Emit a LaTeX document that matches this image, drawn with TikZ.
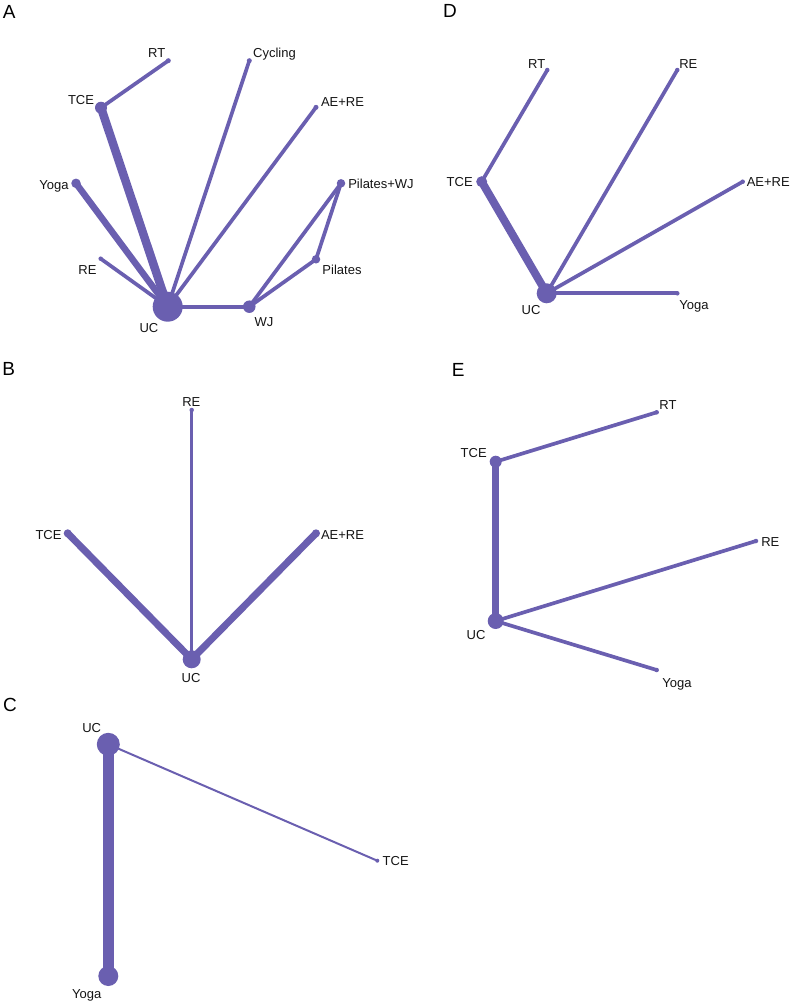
\documentclass[tikz,border=0pt]{standalone}
\usepackage{fontspec}
\setmainfont{Liberation Sans}
\usetikzlibrary{backgrounds}
\definecolor{pcol}{RGB}{106,95,176}
\definecolor{tcol}{RGB}{20,20,20}
\begin{document}
\begin{tikzpicture}[x=1pt,y=-1pt,
  nd/.style={circle,fill=pcol,draw=none,inner sep=0pt,minimum size=#1},
  lbl/.style={anchor=base,yshift=-4.65pt,inner sep=0pt,text=tcol,font=\fontsize{13}{15}\selectfont},
  plbl/.style={anchor=base,yshift=-6.8pt,inner sep=0pt,text=black,font=\fontsize{19}{22}\selectfont},
  ed/.style={draw=pcol,line width=#1,line cap=butt}]
\useasboundingbox (0,0) rectangle (792,1004);
% ---------------- Panel A ----------------
\node[plbl] (pA) at (9.3,11.7) {A};
\node[nd=30pt] (a-uc) at (167.7,306.7) {};
\node[nd=12pt] (a-tce) at (101,107.7) {};
\node[nd=5pt] (a-rt) at (168.3,60.7) {};
\node[nd=5pt] (a-cyc) at (249.3,60.7) {};
\node[nd=5pt] (a-aere) at (316,107.3) {};
\node[nd=8.5pt] (a-pwj) at (341,183.3) {};
\node[nd=8.5pt] (a-pil) at (316,259.3) {};
\node[nd=12.5pt] (a-wj) at (249.3,306.7) {};
\node[nd=9.5pt] (a-yoga) at (76,183.3) {};
\node[nd=4.5pt] (a-re) at (100.7,258.7) {};
\node[lbl] (la-rt) at (156.7,53) {RT};
\node[lbl] (la-cyc) at (274.5,53) {Cycling};
\node[lbl] (la-tce) at (81,100) {TCE};
\node[lbl] (la-aere) at (342.5,101.7) {AE+RE};
\node[lbl] (la-yoga) at (54,184.5) {Yoga};
\node[lbl] (la-pwj) at (381,184) {Pilates+WJ};
\node[lbl] (la-re) at (87.5,270) {RE};
\node[lbl] (la-pil) at (342,270) {Pilates};
\node[lbl] (la-uc) at (149,328) {UC};
\node[lbl] (la-wj) at (264,322) {WJ};
% ---------------- Panel D ----------------
\node[plbl] (pD) at (450,10.3) {D};
\node[nd=20pt] (d-uc) at (546.7,293.3) {};
\node[nd=11pt] (d-tce) at (481.7,181.7) {};
\node[nd=4.5pt] (d-rt) at (547.3,70) {};
\node[nd=4.5pt] (d-re) at (677.3,70) {};
\node[nd=4.5pt] (d-aere) at (742.7,181.7) {};
\node[nd=4.5pt] (d-yoga) at (677.3,293.3) {};
\node[lbl] (ld-rt) at (536.7,64) {RT};
\node[lbl] (ld-re) at (688.3,64) {RE};
\node[lbl] (ld-tce) at (459.7,181.7) {TCE};
\node[lbl] (ld-aere) at (768.3,181.7) {AE+RE};
\node[lbl] (ld-yoga) at (694,304.5) {Yoga};
\node[lbl] (ld-uc) at (531,310) {UC};
% ---------------- Panel B ----------------
\node[plbl] (pB) at (8.8,369) {B};
\node[nd=18pt] (b-uc) at (191.7,659.3) {};
\node[nd=4.5pt] (b-re) at (191.7,410) {};
\node[nd=8pt] (b-tce) at (67.7,533.3) {};
\node[nd=8pt] (b-aere) at (316,533.3) {};
\node[lbl] (lb-re) at (191.3,402) {RE};
\node[lbl] (lb-tce) at (48.5,535) {TCE};
\node[lbl] (lb-aere) at (342.5,535) {AE+RE};
\node[lbl] (lb-uc) at (191,678) {UC};
% ---------------- Panel E ----------------
\node[plbl] (pE) at (458.3,370) {E};
\node[nd=12pt] (e-tce) at (495.7,461.7) {};
\node[nd=16pt] (e-uc) at (495.7,621) {};
\node[nd=4.5pt] (e-rt) at (656.7,412.3) {};
\node[nd=4.5pt] (e-re) at (756,541) {};
\node[nd=4.5pt] (e-yoga) at (656.7,670) {};
\node[lbl] (le-rt) at (668,405) {RT};
\node[lbl] (le-tce) at (473.7,453) {TCE};
\node[lbl] (le-re) at (770.3,541.7) {RE};
\node[lbl] (le-uc) at (476,635) {UC};
\node[lbl] (le-yoga) at (677,683) {Yoga};
% ---------------- Panel C ----------------
\node[plbl] (pC) at (10,704.2) {C};
\node[nd=23pt] (c-uc) at (108.3,744.3) {};
\node[nd=20pt] (c-yoga) at (108.3,976) {};
\node[nd=4pt] (c-tce) at (377.3,860.7) {};
\node[lbl] (lc-uc) at (91.7,728.3) {UC};
\node[lbl] (lc-tce) at (395.7,861.3) {TCE};
\node[lbl] (lc-yoga) at (86.7,994) {Yoga};
% ---------------- Edges ----------------
\begin{pgfonlayer}{background}
% A
\draw[ed=8.5pt] (a-uc.center) -- (a-tce.center);
\draw[ed=6.5pt] (a-uc.center) -- (a-yoga.center);
\draw[ed=3.7pt] (a-uc.center) -- (a-re.center);
\draw[ed=3.7pt] (a-uc.center) -- (a-cyc.center);
\draw[ed=3.7pt] (a-uc.center) -- (a-aere.center);
\draw[ed=3.7pt] (a-uc.center) -- (a-wj.center);
\draw[ed=3.7pt] (a-tce.center) -- (a-rt.center);
\draw[ed=3.7pt] (a-wj.center) -- (a-pwj.center);
\draw[ed=3.7pt] (a-wj.center) -- (a-pil.center);
\draw[ed=3.7pt] (a-pil.center) -- (a-pwj.center);
% D
\draw[ed=8pt] (d-uc.center) -- (d-tce.center);
\draw[ed=3.7pt] (d-tce.center) -- (d-rt.center);
\draw[ed=3.7pt] (d-uc.center) -- (d-re.center);
\draw[ed=3.7pt] (d-uc.center) -- (d-aere.center);
\draw[ed=3.7pt] (d-uc.center) -- (d-yoga.center);
% B
\draw[ed=7pt] (b-uc.center) -- (b-tce.center);
\draw[ed=7pt] (b-uc.center) -- (b-aere.center);
\draw[ed=2.8pt] (b-uc.center) -- (b-re.center);
% E
\draw[ed=6.5pt] (e-uc.center) -- (e-tce.center);
\draw[ed=3.7pt] (e-tce.center) -- (e-rt.center);
\draw[ed=3.7pt] (e-uc.center) -- (e-re.center);
\draw[ed=3.7pt] (e-uc.center) -- (e-yoga.center);
% C
\draw[ed=10.5pt] (c-uc.center) -- (c-yoga.center);
\draw[ed=2pt] (c-uc.center) -- (c-tce.center);
\end{pgfonlayer}
\end{tikzpicture}
\end{document}
